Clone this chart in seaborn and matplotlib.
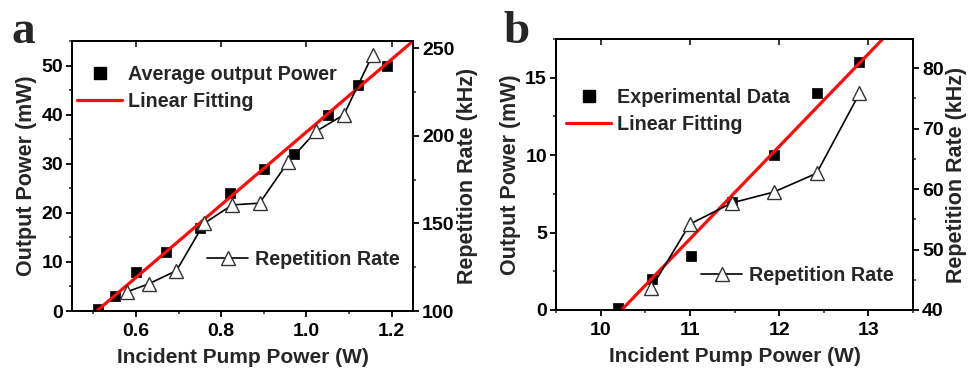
import numpy as np
import matplotlib
matplotlib.use("Agg")
import matplotlib.pyplot as plt
import seaborn as sns
from matplotlib.lines import Line2D
from matplotlib.ticker import MultipleLocator

# ---------------- data: panel a ----------------
a_pump = [0.51, 0.55, 0.60, 0.67, 0.75, 0.82, 0.90, 0.97, 1.05, 1.12, 1.19]
a_power = [0.5, 3, 8, 12, 17, 24, 29, 32, 40, 46, 50]
a_rep_pump = [0.58, 0.63, 0.695, 0.76, 0.826, 0.89, 0.957, 1.023, 1.088, 1.155]
a_rep = [111, 115.5, 123, 150, 160.5, 161.5, 185, 202.5, 212, 246]
a_fit_coef = [74.1, -37.64]
a_fit_x = [0.508, 1.27]
a_labels = ["Average output Power", "Linear Fitting", "Repetition Rate"]

# ---------------- data: panel b ----------------
b_pump = [10.2, 10.58, 11.01, 11.47, 11.94, 12.42, 12.9]
b_power = [0.1, 2, 3.5, 7, 10, 14, 16]
b_rep_pump = [10.57, 11.0, 11.47, 11.94, 12.42, 12.9]
b_rep = [43.7, 54.2, 57.7, 59.5, 62.6, 75.8]
b_fit_coef = [5.98, -61.2]
b_fit_x = [10.235, 13.4]
b_labels = ["Experimental Data", "Linear Fitting", "Repetition Rate"]

xlabel = "Incident Pump Power (W)"
ylabel_left = "Output Power (mW)"
ylabel_right = "Repetition Rate (kHz)"

sns.set_style("ticks")
plt.rcParams["font.family"] = ["Liberation Sans", "DejaVu Sans"]
plt.rcParams["font.weight"] = "bold"
plt.rcParams["axes.labelweight"] = "bold"
plt.rcParams["axes.linewidth"] = 1.3

fig = plt.figure(figsize=(9.73, 3.70), dpi=100)

RED = "#ff0a0a"
FS_TICK = 14
FS_XLAB = 15
FS_YLAB = 15.5
FS_LEG = 14.2


def style_axis(ax, ax2):
    for a in (ax, ax2):
        a.tick_params(axis="both", which="major", direction="out", length=4.5,
                      width=1.3, labelsize=FS_TICK, pad=2, colors="black")
        a.tick_params(axis="both", which="minor", direction="out", length=2.5,
                      width=1.1)
        for lab in a.get_xticklabels() + a.get_yticklabels():
            lab.set_fontweight("bold")
        for s in a.spines.values():
            s.set_linewidth(1.3)
            s.set_color("black")
    ax.tick_params(axis="x", which="major", pad=4)
    ax.tick_params(axis="x", which="both", top=False)


def panel(rect, pump, power, rep_pump, rep, coef, fit_x, labels,
          xlim, ylim, y2lim, xmaj, xmin, ymaj, ymin, y2maj, y2min, xfmt,
          leg1, leg2, letter, letter_xy):
    ax = fig.add_axes(rect)
    ax2 = ax.twinx()
    ax.set_zorder(1)
    ax2.set_zorder(2)
    ax2.patch.set_visible(False)

    sns.scatterplot(x=pump, y=power, ax=ax, marker="s", s=62, color="black",
                    edgecolor="black", linewidth=0.5, zorder=2, legend=False)
    fx = np.array(fit_x)
    sns.lineplot(x=fx, y=np.polyval(coef, fx), ax=ax, color=RED, lw=2.3,
                 zorder=3, legend=False)
    sns.lineplot(x=rep_pump, y=rep, ax=ax2, color="black", lw=1.2,
                 marker="^", markersize=9.5, markerfacecolor="white",
                 markeredgecolor="#333333", markeredgewidth=1.0,
                 legend=False, sort=False)

    ax.set_xlim(*xlim)
    ax.set_ylim(*ylim)
    ax2.set_ylim(*y2lim)
    ax.xaxis.set_major_locator(MultipleLocator(xmaj))
    ax.xaxis.set_minor_locator(MultipleLocator(xmin))
    ax.yaxis.set_major_locator(MultipleLocator(ymaj))
    ax.yaxis.set_minor_locator(MultipleLocator(ymin))
    ax2.yaxis.set_major_locator(MultipleLocator(y2maj))
    ax2.yaxis.set_minor_locator(MultipleLocator(y2min))
    ax.xaxis.set_major_formatter(xfmt)

    ax.set_xlabel(xlabel, fontsize=FS_XLAB, fontweight="bold", labelpad=6)
    ax.set_ylabel(ylabel_left, fontsize=FS_YLAB, fontweight="bold", labelpad=3)
    ax2.set_ylabel(ylabel_right, fontsize=FS_YLAB, fontweight="bold", labelpad=2)
    style_axis(ax, ax2)

    top = ax.secondary_xaxis("top")
    top.xaxis.set_major_locator(MultipleLocator(xmaj))
    top.tick_params(direction="in", length=4.5, width=1.3, labeltop=False)
    top.spines["top"].set_linewidth(1.3)

    h1 = Line2D([], [], ls="none", marker="s", markersize=8, color="black")
    h2 = Line2D([], [], color=RED, lw=2.3)
    h3 = Line2D([], [], color="black", lw=1.2, marker="^", markersize=9.5,
                markerfacecolor="white", markeredgecolor="#333333")
    lg1 = ax2.legend([h1, h2], labels[:2], loc="upper left",
                     bbox_to_anchor=leg1, frameon=False, borderaxespad=0,
                     borderpad=0, handlelength=2.3, handletextpad=0.3,
                     labelspacing=0.4, prop={"size": FS_LEG, "weight": "bold"})
    ax2.add_artist(lg1)
    ax2.legend([h3], labels[2:], loc="upper left", bbox_to_anchor=leg2,
               frameon=False, borderaxespad=0, borderpad=0, handlelength=2.1,
               handletextpad=0.35, prop={"size": FS_LEG, "weight": "bold"})

    fig.text(letter_xy[0], letter_xy[1], letter, fontsize=34,
             fontweight="bold", family=["Liberation Serif", "DejaVu Serif"],
             ha="center", va="baseline")
    return ax, ax2


panel([72 / 973, 1 - 311 / 370, 341 / 973, 270 / 370],
      a_pump, a_power, a_rep_pump, a_rep, a_fit_coef, a_fit_x, a_labels,
      (0.45, 1.25), (0, 55), (100, 254), 0.2, 0.1, 10, 5, 50, 25,
      matplotlib.ticker.FormatStrFormatter("%.1f"),
      (0.015, 0.91), (0.396, 0.225), "a", (23 / 973, 1 - 43 / 370))

panel([556 / 973, 1 - 310 / 370, 357 / 973, 271 / 370],
      b_pump, b_power, b_rep_pump, b_rep, b_fit_coef, b_fit_x, b_labels,
      (9.5, 13.5), (0, 17.5), (40, 84.8), 1, 0.5, 5, 2.5, 10, 5,
      matplotlib.ticker.FormatStrFormatter("%d"),
      (0.028, 0.82), (0.406, 0.163), "b", (516 / 973, 1 - 43 / 370))

fig.savefig("out.png", dpi=100)
